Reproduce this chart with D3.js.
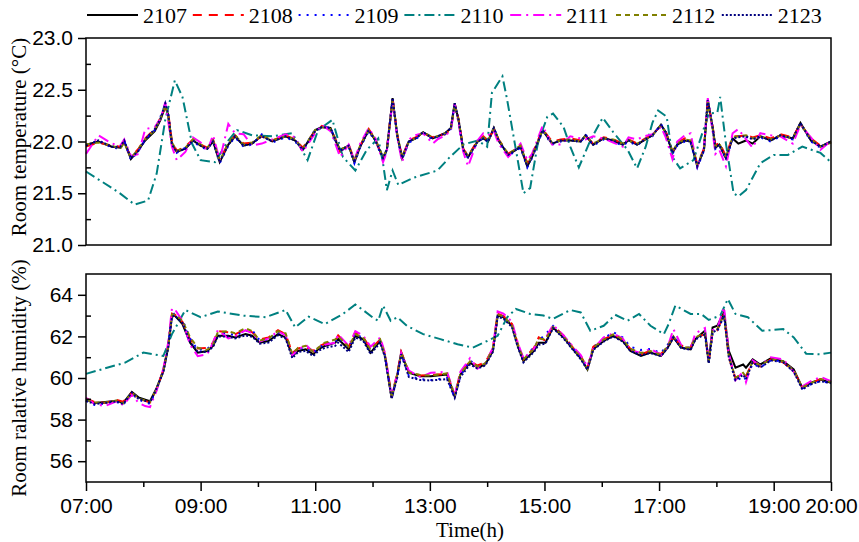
<!DOCTYPE html>
<html>
<head>
<meta charset="utf-8">
<script src="https://cdn.jsdelivr.net/npm/d3@7"></script>
<style>
  body { margin: 0; background: #fff; }
  svg { font-family: "Liberation Serif", "Times New Roman", serif; }
  .axis text { font-size: 21px; fill: #000; }
  .axis path, .axis line { stroke: #000; stroke-width: 1.5; }
  .line { fill: none; stroke-width: 2; }
</style>
</head>
<body>
<div id="chart"></div>
<script>
var rooms = ["2107", "2108", "2109", "2110", "2111", "2112", "2123"];

// temperature, shared time grid for the six similar rooms
var tTime = ["07:00","07:13","07:27","07:36","07:40","07:47","07:55","08:02","08:12","08:18",
  "08:23","08:26","08:30","08:35","08:44","08:52","09:00","09:07","09:13","09:20",
  "09:29","09:36","09:45","09:54","10:04","10:15","10:29","10:39","10:47","11:00",
  "11:07","11:16","11:21","11:26","11:35","11:41","11:47","11:56","12:03","12:11",
  "12:15","12:21","12:26","12:31","12:38","12:45","12:53","13:03","13:08","13:16",
  "13:22","13:26","13:30","13:35","13:40","13:50","13:56","14:01","14:07","14:12",
  "14:22","14:35","14:42","14:47","14:58","15:08","15:17","15:27","15:38","15:43",
  "15:51","16:02","16:12","16:22","16:28","16:37","16:44","16:53","17:02","17:07",
  "17:14","17:19","17:27","17:33","17:40","17:47","17:51","17:56","17:59","18:03",
  "18:10","18:17","18:23","18:31","18:38","18:46","18:57","19:07","19:20","19:28",
  "19:39","19:49","20:00"];
var t2107 = [21.97,22.00,21.95,21.94,22.00,21.83,21.92,22.01,22.10,22.21,
  22.34,22.26,21.97,21.90,21.93,22.01,21.96,21.93,22.00,21.80,
  21.97,22.05,21.96,21.98,22.06,22.00,22.05,22.01,21.92,22.11,
  22.14,22.13,22.01,21.92,21.96,21.80,21.95,22.11,22.01,21.84,
  21.92,22.42,22.05,21.84,22.00,22.03,22.09,22.03,22.05,22.08,
  22.13,22.37,22.21,21.92,21.85,22.00,22.03,22.00,22.13,22.01,
  21.87,21.95,21.76,21.85,22.11,21.98,22.01,22.01,22.00,22.06,
  21.97,22.03,22.01,21.97,22.01,21.97,22.01,22.06,22.16,22.09,
  21.89,21.97,22.01,22.00,21.76,21.92,22.40,22.14,21.94,21.97,
  21.84,22.03,21.98,22.01,21.98,22.05,22.01,22.06,22.03,22.18,
  22.01,21.95,22.00];
var t2108 = [21.95,21.99,21.96,21.95,21.99,21.85,21.93,22.03,22.12,22.23,
  22.33,22.28,22.00,21.91,21.95,22.02,21.97,21.94,22.02,21.82,
  21.98,22.06,21.98,21.99,22.05,22.01,22.06,22.02,21.94,22.10,
  22.15,22.12,22.03,21.90,21.97,21.82,21.96,22.12,22.02,21.83,
  21.93,22.41,22.06,21.85,22.01,22.04,22.08,22.04,22.06,22.07,
  22.12,22.36,22.22,21.93,21.86,22.01,22.05,22.01,22.12,22.02,
  21.88,21.96,21.79,21.87,22.12,22.00,22.02,22.03,22.01,22.05,
  21.98,22.04,22.02,21.98,22.02,21.98,22.02,22.07,22.15,22.10,
  21.90,21.99,22.03,22.02,21.78,21.93,22.39,22.15,21.96,21.99,
  21.86,22.05,22.05,22.06,22.04,22.06,22.03,22.07,22.04,22.17,
  22.03,21.96,21.99];
var t2109 = [21.96,22.01,21.94,21.93,22.01,21.82,21.91,22.02,22.11,22.24,
  22.36,22.27,21.98,21.89,21.94,22.00,21.95,21.92,22.01,21.79,
  21.96,22.04,21.95,21.97,22.07,21.99,22.04,22.00,21.91,22.12,
  22.13,22.14,22.00,21.91,21.95,21.79,21.94,22.10,22.00,21.83,
  21.91,22.41,22.04,21.83,21.99,22.02,22.08,22.02,22.04,22.07,
  22.12,22.36,22.20,21.91,21.84,21.99,22.04,21.99,22.14,22.00,
  21.86,21.94,21.75,21.84,22.10,21.97,22.00,22.02,21.99,22.07,
  21.96,22.02,22.00,21.96,22.00,21.96,22.02,22.05,22.17,22.08,
  21.88,21.96,22.00,21.99,21.75,21.91,22.41,22.13,21.93,21.96,
  21.83,22.02,22.05,22.04,22.03,22.04,22.00,22.05,22.02,22.17,
  22.00,21.94,21.99];
var t2111 = [21.88,22.06,21.98,21.96,22.02,21.86,21.88,22.12,22.14,22.22,
  22.38,22.20,21.95,21.82,21.90,22.04,21.99,21.91,22.06,21.82,
  22.17,22.08,22.07,21.96,21.98,22.02,22.07,22.04,21.90,22.08,
  22.16,22.10,21.98,21.85,21.97,21.82,21.98,22.13,22.03,21.80,
  21.90,22.40,22.03,21.80,22.02,22.06,22.08,21.98,22.02,22.06,
  22.10,22.36,22.18,21.90,21.76,22.01,22.08,22.06,22.10,21.98,
  21.85,21.98,21.82,21.88,22.15,21.97,21.97,22.05,22.03,22.02,
  22.05,22.03,21.99,21.95,22.04,22.02,22.05,22.07,22.14,22.04,
  21.83,22.00,22.06,22.08,21.76,21.94,22.42,22.10,21.88,21.92,
  21.76,22.08,22.12,22.02,21.94,22.08,22.06,22.05,21.98,22.16,
  22.04,21.92,22.01];
var t2112 = [21.97,21.99,21.96,21.93,21.99,21.84,21.93,22.02,22.11,22.22,
  22.35,22.25,21.99,21.91,21.94,22.02,21.97,21.94,22.01,21.81,
  21.99,22.06,21.97,21.99,22.06,22.01,22.05,22.02,21.93,22.11,
  22.14,22.12,22.02,21.92,21.96,21.81,21.96,22.11,22.02,21.85,
  21.92,22.40,22.06,21.85,22.00,22.03,22.09,22.04,22.05,22.08,
  22.13,22.35,22.21,21.93,21.86,22.00,22.04,22.01,22.13,22.02,
  21.88,21.96,21.78,21.86,22.11,21.99,22.01,22.02,22.00,22.06,
  21.98,22.03,22.02,21.98,22.01,21.98,22.01,22.06,22.16,22.09,
  21.90,21.98,22.02,22.01,21.78,21.92,22.38,22.14,21.95,21.98,
  21.85,22.04,22.05,22.06,22.03,22.05,22.02,22.06,22.03,22.17,
  22.02,21.95,21.99];
var t2123 = [21.96,22.01,21.95,21.95,22.01,21.84,21.91,22.02,22.12,22.22,
  22.37,22.27,21.97,21.90,21.93,22.01,21.96,21.93,22.00,21.80,
  21.97,22.05,21.96,21.98,22.05,22.00,22.05,22.01,21.92,22.10,
  22.14,22.13,22.02,21.91,21.96,21.80,21.95,22.11,22.01,21.84,
  21.92,22.42,22.05,21.84,22.00,22.03,22.09,22.03,22.05,22.08,
  22.13,22.37,22.21,21.92,21.85,22.00,22.03,22.00,22.13,22.01,
  21.87,21.95,21.76,21.85,22.11,21.98,22.01,22.01,22.00,22.06,
  21.97,22.03,22.01,21.97,22.01,21.97,22.01,22.06,22.16,22.09,
  21.89,21.97,22.01,22.00,21.76,21.92,22.40,22.14,21.94,21.97,
  21.84,22.03,22.04,22.05,22.02,22.05,22.01,22.06,22.03,22.18,
  22.01,21.95,22.00];

// room 2110 logged on its own, coarser times
var t2110Time = ["07:00","07:34","07:51","08:05","08:14","08:23","08:33","08:41","08:51","09:00",
  "09:15","09:29","09:38","09:54","10:15","10:36","10:52","11:03","11:18","11:29",
  "11:42","11:54","12:06","12:11","12:15","12:21","12:27","12:43","13:08","13:21",
  "13:35","13:50","14:00","14:05","14:16","14:21","14:32","14:38","14:45","14:53",
  "15:03","15:09","15:20","15:27","15:36","15:48","16:01","16:12","16:27","16:37",
  "16:46","16:53","16:59","17:08","17:14","17:22","17:36","17:52","18:01","18:04",
  "18:10","18:18","18:23","18:31","18:46","19:00","19:15","19:30","19:49","20:00"];
var t2110 = [21.71,21.51,21.39,21.43,21.69,22.21,22.59,22.43,21.98,21.82,
  21.80,22.01,22.11,22.06,22.05,22.08,21.82,22.11,22.21,21.85,
  21.72,21.92,22.03,21.79,21.53,21.72,21.58,21.65,21.72,21.85,
  21.97,22.01,21.95,22.47,22.63,22.40,21.82,21.50,21.55,21.98,
  22.24,22.27,22.14,21.95,21.75,22.01,22.23,22.09,21.92,21.74,
  21.95,22.18,22.30,22.24,21.85,21.74,21.82,22.27,22.28,22.43,
  21.98,21.50,21.47,21.53,21.79,21.87,21.87,21.95,21.89,21.80];

// relative humidity
var hTime = ["07:00","07:09","07:20","07:32","07:39","07:48","07:55","08:02","08:07","08:14",
  "08:21","08:26","08:30","08:33","08:41","08:49","08:57","09:07","09:13","09:18",
  "09:29","09:36","09:47","09:54","10:02","10:11","10:21","10:29","10:36","10:42",
  "10:50","10:58","11:03","11:10","11:21","11:24","11:35","11:42","11:50","11:58",
  "12:08","12:13","12:20","12:26","12:30","12:38","12:50","13:01","13:18","13:26",
  "13:32","13:42","13:50","13:58","14:06","14:11","14:17","14:26","14:32","14:38",
  "14:49","14:54","15:01","15:09","15:20","15:30","15:38","15:45","15:51","16:02",
  "16:12","16:22","16:30","16:41","16:51","17:02","17:09","17:15","17:23","17:33",
  "17:38","17:48","17:52","17:56","18:01","18:08","18:13","18:20","18:28","18:31",
  "18:38","18:46","18:57","19:10","19:21","19:30","19:39","19:49","20:00"];
var h2107 = [58.96,58.80,58.85,58.91,58.80,59.33,59.07,58.96,58.88,59.52,
  60.33,61.46,63.00,63.00,62.59,61.70,61.22,61.30,61.54,62.03,
  62.03,61.95,62.11,62.03,61.70,61.78,62.11,61.95,61.06,61.30,
  61.38,61.14,61.38,61.54,61.70,61.87,61.38,62.03,61.87,61.22,
  61.78,61.06,59.04,60.17,61.22,60.25,60.09,60.09,60.17,59.12,
  60.17,60.74,60.50,60.65,61.30,63.00,62.92,62.51,61.54,60.81,
  61.30,61.70,61.70,62.43,61.95,61.38,60.95,60.41,61.38,61.78,
  62.03,61.78,61.30,61.06,61.22,61.06,61.46,61.95,61.46,61.38,
  61.87,62.27,60.74,62.43,62.51,63.16,61.30,60.50,60.65,60.50,
  60.90,60.65,60.95,60.81,60.41,59.52,59.77,59.93,59.77];
var h2108 = [59.02,58.85,58.80,58.95,58.86,59.28,59.00,58.90,58.82,59.48,
  60.38,61.55,63.10,63.05,62.70,61.85,61.42,61.45,61.70,62.25,
  62.20,62.10,62.35,62.20,61.85,61.95,62.30,62.10,61.20,61.42,
  61.50,61.30,61.50,61.65,61.80,62.05,61.50,62.20,61.98,61.40,
  61.85,61.15,59.10,60.25,61.25,60.30,60.12,60.15,60.20,59.15,
  60.25,60.80,60.60,60.75,61.40,63.10,62.98,62.60,61.65,60.90,
  61.45,61.95,61.80,62.50,62.05,61.45,61.05,60.50,61.50,61.85,
  62.10,61.85,61.40,61.15,61.30,61.15,61.55,62.00,61.55,61.50,
  61.95,62.10,60.85,62.20,62.30,63.10,61.00,60.00,60.20,60.10,
  60.75,60.55,60.90,60.75,60.35,59.55,59.75,59.95,59.80];
var h2109 = [58.90,58.70,58.78,58.85,58.72,59.25,58.95,58.85,58.75,59.45,
  60.40,61.60,63.05,63.10,62.80,61.90,61.35,61.40,61.65,62.15,
  62.15,62.05,62.25,62.30,61.80,61.85,62.20,62.05,61.10,61.40,
  61.45,61.20,61.45,61.60,61.75,61.95,61.45,62.15,61.90,61.30,
  61.80,61.10,59.00,60.10,61.15,60.10,59.95,59.90,60.00,59.05,
  60.10,60.85,60.55,60.70,61.35,63.05,62.95,62.55,61.60,60.85,
  61.50,61.80,62.10,62.50,62.00,61.45,61.00,60.45,61.45,61.90,
  62.20,61.95,61.50,61.35,61.40,61.20,61.60,62.05,61.50,61.45,
  61.90,62.20,60.80,62.10,62.25,63.00,61.10,59.80,60.10,59.90,
  60.70,60.50,60.85,60.80,60.30,59.50,59.70,59.85,59.75];
var h2111 = [59.05,58.75,58.65,58.88,58.70,59.20,58.80,58.65,58.60,59.40,
  60.45,61.70,63.35,63.30,62.75,61.60,61.05,61.15,61.70,62.30,
  61.90,62.00,62.30,62.15,61.75,61.90,62.25,62.05,61.10,61.35,
  61.60,61.25,61.45,61.60,61.70,62.10,61.55,62.25,62.05,61.50,
  61.95,61.20,59.10,60.20,61.20,60.35,60.05,60.25,60.30,59.20,
  60.30,60.95,60.45,60.70,61.45,63.20,63.10,62.70,61.70,60.95,
  61.40,61.85,61.90,62.55,62.05,61.50,61.10,60.55,61.40,61.95,
  62.15,61.90,61.35,61.20,61.40,61.10,61.50,62.35,61.60,61.40,
  62.15,62.40,60.90,62.30,62.40,63.40,61.20,59.90,60.30,59.80,
  60.85,60.60,61.00,60.90,60.30,59.60,59.85,60.05,59.85];
var h2112 = [58.98,58.82,58.82,58.92,58.78,59.30,59.02,58.92,58.85,59.50,
  60.35,61.50,63.05,63.05,62.75,61.95,61.45,61.35,61.60,62.20,
  62.25,62.15,62.40,62.25,61.80,61.90,62.25,62.15,61.15,61.45,
  61.55,61.25,61.45,61.70,61.85,62.00,61.50,62.10,61.95,61.35,
  61.85,61.10,59.05,60.20,61.20,60.25,60.15,60.12,60.22,59.15,
  60.20,60.80,60.55,60.70,61.40,63.05,62.95,62.55,61.60,60.90,
  61.40,61.90,61.85,62.45,62.00,61.40,61.00,60.45,61.45,61.85,
  62.10,61.85,61.40,61.20,61.30,61.10,61.55,62.00,61.50,61.45,
  61.95,62.15,60.80,62.25,62.35,63.05,61.05,60.00,60.25,60.05,
  60.80,60.60,60.90,60.80,60.35,59.55,59.75,59.95,59.80];
var h2123 = [58.90,58.75,58.80,58.88,58.75,59.30,59.00,58.90,58.82,59.50,
  60.30,61.45,62.95,63.00,62.65,61.75,61.25,61.25,61.50,62.00,
  62.00,61.90,62.05,61.98,61.65,61.70,62.05,61.90,60.95,61.25,
  61.30,61.05,61.30,61.45,61.55,61.70,61.25,61.95,61.80,61.15,
  61.70,61.00,59.00,60.05,61.15,60.05,59.90,59.88,59.95,59.05,
  60.05,60.65,60.45,60.60,61.25,62.95,62.85,62.45,61.50,60.75,
  61.25,61.60,61.65,62.40,61.90,61.35,60.90,60.40,61.35,61.75,
  62.00,61.75,61.30,61.10,61.20,61.05,61.45,61.95,61.45,61.35,
  61.85,62.10,60.70,62.20,62.30,63.00,61.00,59.90,60.15,59.95,
  60.75,60.50,60.85,60.75,60.30,59.45,59.70,59.85,59.75];

var h2110Time = ["07:00","07:41","08:00","08:21","08:30","08:44","09:00","09:18","09:44","10:08",
  "10:29","10:39","10:53","11:10","11:29","11:42","11:50","12:00","12:06","12:11",
  "12:19","12:26","12:36","12:53","13:11","13:29","13:45","14:00","14:11","14:21",
  "14:30","14:45","14:59","15:09","15:27","15:38","15:48","16:02","16:14","16:27",
  "16:39","16:51","17:05","17:10","17:17","17:33","17:44","17:52","18:04","18:12",
  "18:20","18:33","18:48","19:10","19:21","19:34","19:49","20:00"];
var h2110 = [60.20,60.74,61.22,61.06,62.11,63.27,62.92,63.20,63.00,62.92,
  63.27,62.43,62.95,62.59,63.08,63.53,63.27,62.92,62.75,63.48,
  62.75,62.92,62.51,62.11,61.87,61.62,61.46,61.78,62.03,62.92,
  63.32,63.08,63.00,62.84,63.27,63.15,62.27,62.51,63.04,62.75,
  63.08,62.51,62.11,62.59,63.48,63.08,63.08,62.79,63.00,63.80,
  63.08,62.92,62.27,62.35,61.95,61.17,61.14,61.22];

var majorTicks = ["07:00","09:00","11:00","13:00","15:00","17:00","19:00","20:00"];
var minorTicks = ["08:00","10:00","12:00","14:00","16:00","18:00"];
var tempTicks = [21.0, 21.5, 22.0, 22.5, 23.0];
var humTicks = [56, 58, 60, 62, 64];

var styles = {
  "2107": {color: "#000000", dash: null},
  "2108": {color: "#ff0000", dash: "9,7"},
  "2109": {color: "#0000ff", dash: "2,6"},
  "2110": {color: "#008080", dash: "10,4,2,4"},
  "2111": {color: "#ff00ff", dash: "11,5,2,5"},
  "2112": {color: "#808000", dash: "5,4"},
  "2123": {color: "#000080", dash: "2,2"}
};

var parseTime = d3.timeParse("%H:%M");

function pairs(times, vals) {
  return times.map(function(t, i) { return {t: parseTime(t), v: vals[i]}; });
}

var tempSeries = {
  "2107": pairs(tTime, t2107), "2108": pairs(tTime, t2108), "2109": pairs(tTime, t2109),
  "2110": pairs(t2110Time, t2110), "2111": pairs(tTime, t2111), "2112": pairs(tTime, t2112),
  "2123": pairs(tTime, t2123)
};
var humSeries = {
  "2107": pairs(hTime, h2107), "2108": pairs(hTime, h2108), "2109": pairs(hTime, h2109),
  "2110": pairs(h2110Time, h2110), "2111": pairs(hTime, h2111), "2112": pairs(hTime, h2112),
  "2123": pairs(hTime, h2123)
};

var svg = d3.select("#chart").append("svg").attr("width", 859).attr("height", 542),
    left = 86, right = 831;

var x = d3.scaleTime()
    .domain([parseTime("07:00"), parseTime("20:00")])
    .range([left, right]);

var yT = d3.scaleLinear().domain([21, 23]).range([245, 38]);
var yH = d3.scaleLinear().domain([55, 65]).range([482, 274]);

function panel(y, series, ticks, fmt, minor, withX) {
  var g = svg.append("g");
  var line = d3.line()
      .x(function(d) { return x(d.t); })
      .y(function(d) { return y(d.v); });

  rooms.forEach(function(r) {
    g.append("path")
        .datum(series[r])
        .attr("class", "line")
        .attr("stroke", styles[r].color)
        .attr("stroke-dasharray", styles[r].dash)
        .attr("d", line);
  });

  var r0 = y.range();
  g.append("rect")
      .attr("x", left).attr("y", r0[1])
      .attr("width", right - left).attr("height", r0[0] - r0[1])
      .attr("fill", "none").attr("stroke", "#000").attr("stroke-width", 1.5);

  g.append("g")
      .attr("class", "axis")
      .attr("transform", "translate(" + left + ",0)")
      .call(d3.axisLeft(y).tickValues(ticks).tickFormat(fmt).tickSize(8).tickSizeOuter(0).tickPadding(5))
      .select(".domain").remove();

  g.append("g")
      .attr("class", "axis")
      .attr("transform", "translate(" + left + ",0)")
      .call(d3.axisRight(y).tickValues(minor).tickFormat("").tickSize(5).tickSizeOuter(0))
      .select(".domain").remove();

  if (withX) {
    g.append("g")
        .attr("class", "axis")
        .attr("transform", "translate(0," + r0[0] + ")")
        .call(d3.axisBottom(x).tickValues(majorTicks.map(parseTime))
          .tickFormat(d3.timeFormat("%H:%M")).tickSize(9).tickSizeOuter(0).tickPadding(7))
        .select(".domain").remove();
    g.append("g")
        .attr("class", "axis")
        .attr("transform", "translate(0," + r0[0] + ")")
        .call(d3.axisBottom(x).tickValues(minorTicks.map(parseTime)).tickFormat("").tickSize(5).tickSizeOuter(0))
        .select(".domain").remove();
  }
}

panel(yT, tempSeries, tempTicks, d3.format(".1f"), [21.25, 21.75, 22.25, 22.75], false);
panel(yH, humSeries, humTicks, d3.format("d"), [57, 59, 61, 63], true);

// axis titles
svg.append("text")
    .attr("transform", "translate(26,137) rotate(-90)")
    .attr("text-anchor", "middle")
    .style("font-size", "21px")
    .text("Room temperature (°C)");

svg.append("text")
    .attr("transform", "translate(26,378) rotate(-90)")
    .attr("text-anchor", "middle")
    .style("font-size", "21px")
    .text("Room ralative humidity (%)");

svg.append("text")
    .attr("x", 470).attr("y", 537)
    .attr("text-anchor", "middle")
    .style("font-size", "21px")
    .text("Time(h)");

// legend
var legend = svg.selectAll(".legend")
    .data(rooms)
  .enter().append("g")
    .attr("class", "legend")
    .attr("transform", function(d, i) { return "translate(" + (87 + i * 105.8) + ",0)"; });

legend.append("line")
    .attr("x1", 0).attr("x2", 51)
    .attr("y1", 15).attr("y2", 15)
    .attr("stroke", function(d) { return styles[d].color; })
    .attr("stroke-dasharray", function(d) { return styles[d].dash; })
    .attr("stroke-width", 2);

legend.append("text")
    .attr("x", 56).attr("y", 23)
    .style("font-size", "22px")
    .text(function(d) { return d; });
</script>
</body>
</html>
